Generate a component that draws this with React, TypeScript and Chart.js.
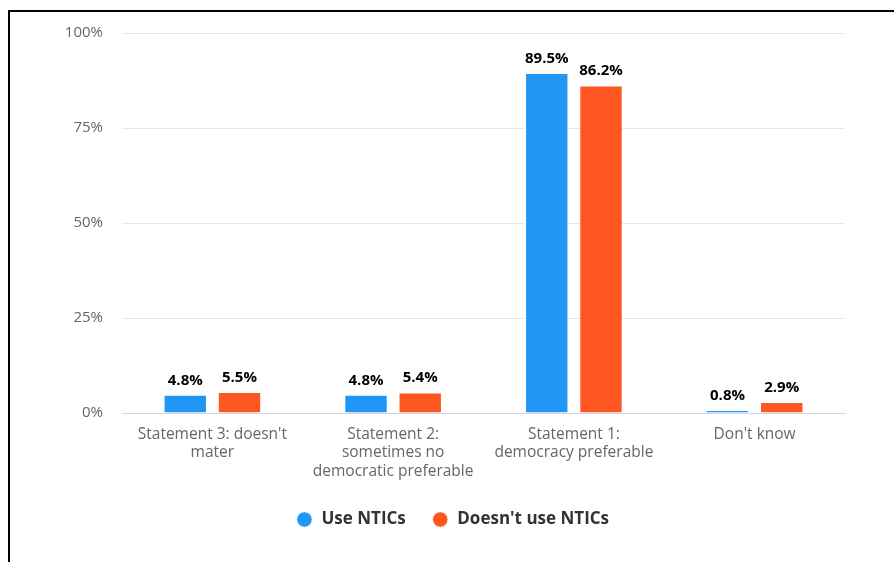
import React, { useEffect, useRef } from "react";
import { Chart, registerables } from "chart.js";

Chart.register(...registerables);

const categories: (string | string[])[] = [
  ["Statement 3: doesn't", "mater"],
  ["Statement 2:", "sometimes no", "democratic preferable"],
  ["Statement 1:", "democracy preferable"],
  "Don't know",
];
const seriesNames = ["Use NTICs", "Doesn't use NTICs"];
const useNtics = [4.8, 4.8, 89.5, 0.8];
const noNtics = [5.5, 5.4, 86.2, 2.9];
const yTickStep = 25;
const yMax = 100;

const FONT = "'Open Sans', sans-serif";

const dataLabels = {
  id: "dataLabels",
  afterDatasetsDraw(chart: any) {
    const ctx = chart.ctx;
    ctx.save();
    ctx.font = `bold 15px ${FONT}`;
    ctx.fillStyle = "#000";
    ctx.textAlign = "center";
    ctx.textBaseline = "alphabetic";
    chart.data.datasets.forEach((ds: any, i: number) => {
      chart.getDatasetMeta(i).data.forEach((el: any, j: number) => {
        ctx.fillText(Number(ds.data[j]).toFixed(1) + "%", el.x, el.y - 10);
      });
    });
    ctx.restore();
  },
};

export default function App() {
  const ref = useRef<HTMLCanvasElement>(null);
  useEffect(() => {
    if (!ref.current) return;
    Chart.defaults.font.family = FONT;
    const chart = new Chart(ref.current, {
      type: "bar",
      data: {
        labels: categories,
        datasets: [
          {
            label: seriesNames[0],
            data: useNtics,
            backgroundColor: "#2196f3",
            borderColor: "#ffffff",
            borderWidth: 1,
            categoryPercentage: 0.6,
            barPercentage: 0.8,
          },
          {
            label: seriesNames[1],
            data: noNtics,
            backgroundColor: "#ff5722",
            borderColor: "#ffffff",
            borderWidth: 1,
            categoryPercentage: 0.6,
            barPercentage: 0.8,
          },
        ],
      },
      options: {
        animation: false,
        responsive: false,
        devicePixelRatio: 1,
        layout: { padding: { left: 50, right: 49, top: 21, bottom: 24 } },
        plugins: {
          tooltip: { enabled: false },
          legend: {
            position: "bottom",
            labels: {
              usePointStyle: true,
              pointStyle: "circle",
              boxWidth: 17,
              boxHeight: 11,
              padding: 26,
              color: "#333333",
              font: { family: FONT, size: 17, weight: "bold" },
            },
          },
        },
        scales: {
          x: {
            grid: { display: false, drawTicks: false },
            border: { display: true, color: "#ccd6eb", width: 1 },
            ticks: {
              color: "#666666",
              font: { family: FONT, size: 15.5, lineHeight: 1.19 },
              padding: 12,
              maxRotation: 0,
              autoSkip: false,
            },
            afterFit: (s: any) => {
              s.height = 72;
              s.paddingLeft = 0;
              s.paddingRight = 0;
            },
          },
          y: {
            min: 0,
            max: yMax,
            grid: {
              drawTicks: false,
              color: (c: any) => (c.tick && c.tick.value === 0 ? "#ccd6eb" : "#e6e6e6"),
            },
            border: { display: false },
            ticks: {
              stepSize: yTickStep,
              color: "#666666",
              font: { family: FONT, size: 15 },
              padding: 19,
              callback: (v: any) => v + "%",
            },
            afterFit: (s: any) => {
              s.width = 62;
              s.paddingTop = 0;
              s.paddingBottom = 0;
            },
          },
        },
      },
      plugins: [dataLabels],
    });
    return () => chart.destroy();
  }, []);

  return (
    <>
      <div
        style={{
          position: "fixed",
          left: 8,
          top: 10,
          width: "calc(100vw - 8px)",
          height: "calc(100vh - 10px)",
          borderLeft: "2px solid #000",
          borderTop: "2px solid #000",
          boxSizing: "border-box",
        }}
      />
      <canvas
        ref={ref}
        width={884}
        height={550}
        style={{ position: "fixed", left: 10, top: 12, width: 884, height: 550 }}
      />
    </>
  );
}
